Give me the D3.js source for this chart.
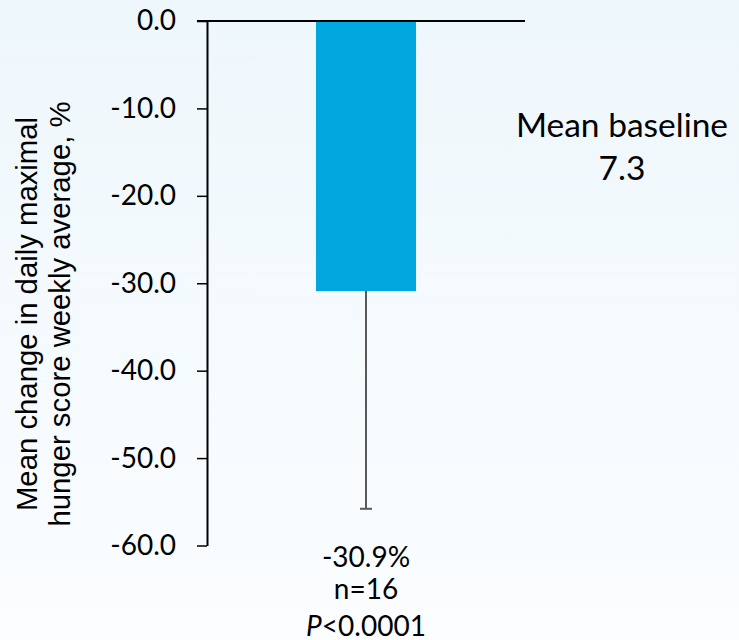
<!DOCTYPE html>
<html>
<head>
<meta charset="utf-8">
<script src="https://cdn.jsdelivr.net/npm/d3@7"></script>
<style>
  html, body { margin: 0; padding: 0; }
  svg { display: block; }
</style>
</head>
<body>
<svg id="chart" width="739" height="640"></svg>
<script>
// Mean % change in daily maximal hunger score (weekly average)
const categories = ["Hunger score"];
const meanChange = [-30.9];
const errorLow = [-55.8];
const yTicks = [0, -10, -20, -30, -40, -50, -60];
const barLabels = [["-30.9%", "n=16", "P<0.0001"]];
const baselineLabel = ["Mean baseline", "7.3"];
const yTitle = ["Mean change in daily maximal", "hunger score weekly average, %"];

const W = 739, H = 640;
const svg = d3.select("#chart");

// soft blue-to-white page background
const defs = svg.append("defs");
const grad = defs.append("linearGradient")
  .attr("id", "bg").attr("x1", 0).attr("y1", 0).attr("x2", 0).attr("y2", 1);
grad.append("stop").attr("offset", "0%").attr("stop-color", "#eef7fc");
grad.append("stop").attr("offset", "100%").attr("stop-color", "#fbfdff");
svg.append("rect").attr("width", W).attr("height", H).attr("fill", "url(#bg)");

const axisX = 207;
const y = d3.scaleLinear().domain([0, -60]).range([21, 545.5]);
const x = d3.scaleBand().domain(categories).range([axisX, 525])
  .paddingInner(0.5215).paddingOuter(0.5215);

const labelFont = "Lato, 'Open Sans', sans-serif";

// bars
svg.append("g").selectAll("rect")
  .data(categories)
  .join("rect")
  .attr("x", d => x(d))
  .attr("width", x.bandwidth())
  .attr("y", (d, i) => y(0))
  .attr("height", (d, i) => y(meanChange[i]) - y(0))
  .attr("fill", "#00a6de");

// error bars (lower only)
const eb = svg.append("g").attr("stroke", "#595959").attr("stroke-width", 2);
categories.forEach((c, i) => {
  const cx = x(c) + x.bandwidth() / 2;
  eb.append("line").attr("x1", cx).attr("x2", cx)
    .attr("y1", y(meanChange[i])).attr("y2", y(errorLow[i]));
  eb.append("line").attr("x1", cx - 6).attr("x2", cx + 6)
    .attr("y1", y(errorLow[i])).attr("y2", y(errorLow[i]));
});

// y axis
const yAxis = d3.axisLeft(y)
  .tickValues(yTicks)
  .tickSize(10)
  .tickSizeOuter(0)
  .tickPadding(21)
  .tickFormat(d => d.toFixed(1));
const gy = svg.append("g").attr("transform", `translate(${axisX},0)`).call(yAxis);
gy.select(".domain").attr("stroke", "#000").attr("stroke-width", 2);
gy.selectAll(".tick line").attr("stroke", "#000").attr("stroke-width", 1.5);
gy.selectAll(".tick text")
  .attr("fill", "#000")
  .style("font-family", labelFont)
  .style("font-size", "28px");

// zero reference line
svg.append("line")
  .attr("x1", axisX - 10).attr("x2", 525)
  .attr("y1", y(0)).attr("y2", y(0))
  .attr("stroke", "#000").attr("stroke-width", 2);

// labels under each bar
categories.forEach((c, i) => {
  const cx = x(c) + x.bandwidth() / 2;
  const lines = barLabels[i];
  const baselines = [567, 599, 636];
  lines.forEach((t, j) => {
    const txt = svg.append("text")
      .attr("x", cx).attr("y", baselines[j])
      .attr("text-anchor", "middle")
      .style("font-family", labelFont)
      .style("font-size", "28px")
      .attr("fill", "#000");
    if (t.startsWith("P<")) {
      txt.append("tspan").style("font-style", "italic").text("P");
      txt.append("tspan").text(t.slice(1));
    } else {
      txt.text(t);
    }
  });
});

// baseline annotation
baselineLabel.forEach((t, j) => {
  svg.append("text")
    .attr("x", 622).attr("y", [137, 180][j])
    .attr("text-anchor", "middle")
    .style("font-family", labelFont)
    .style("font-size", "33.5px")
    .attr("fill", "#000")
    .text(t);
});

// y axis title
yTitle.forEach((t, j) => {
  svg.append("text")
    .attr("transform", `translate(${[37, 70][j]},314) rotate(-90)`)
    .attr("text-anchor", "middle")
    .style("font-family", "'Liberation Sans', Arial, sans-serif")
    .style("font-size", "29.3px")
    .attr("fill", "#000")
    .text(t);
});
</script>
</body>
</html>
